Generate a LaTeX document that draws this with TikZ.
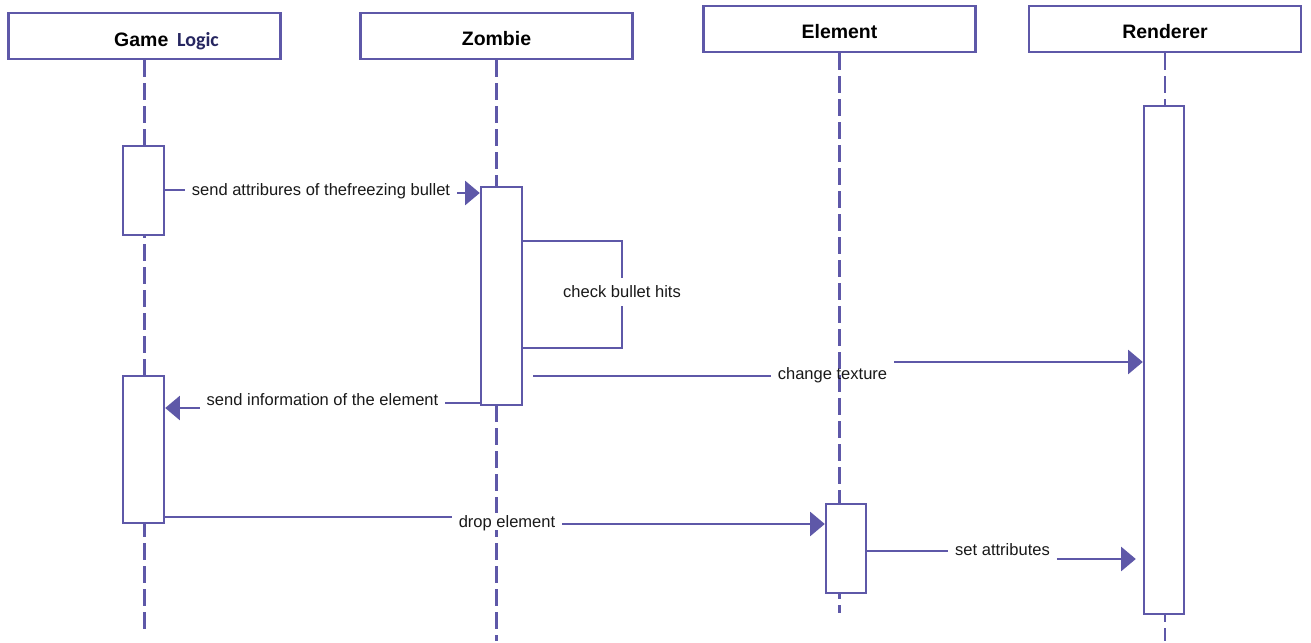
\documentclass[tikz,border=0pt]{standalone}
\usepackage{fontspec}
\setmainfont{Liberation Sans}
\newfontfamily\carlito{Carlito}
\usetikzlibrary{arrows.meta}
\definecolor{seq}{RGB}{94,88,168}
\definecolor{navy}{RGB}{38,38,96}
\begin{document}
\begin{tikzpicture}[x=0.75pt,y=-0.75pt,
  header/.style={draw=seq,line width=1.8pt,fill=white,minimum width=204pt,
    minimum height=34.5pt,inner sep=0pt,text height=15pt,text depth=0pt,
    font=\fontsize{14.6}{17}\selectfont\bfseries},
  lifeline/.style={draw=seq,line width=1.8pt,dash pattern=on 12.75pt off 4.5pt},
  act/.style={draw=seq,line width=1.8pt,fill=white,minimum width=30.75pt,inner sep=0pt},
  msg/.style={draw=seq,line width=1.8pt},
  call/.style={msg,-{Triangle[length=11pt,width=18pt]}},
  lbl/.style={font=\fontsize{12.4}{15}\selectfont,inner xsep=5pt,inner ysep=2pt,
    text depth=0pt,text=black!90}]

% canvas
\fill[white] (0,0) rectangle (1311,641);

% participants
\node[header] (gl) at (144.5,36) {};
\node[font=\fontsize{14.6}{17}\selectfont\bfseries,text depth=0pt] (gltitle) at (166.5,39)
  {Game\hspace{0.45em}{\carlito\fontsize{15}{17}\selectfont\color{navy}Logic}};
\node[header] (zh) at (496.5,36) {Zombie};
\node[header] (eh) at (839.5,29) {Element};
\node[header] (rh) at (1165,29) {Renderer};

% lifelines
\draw[lifeline] (gl.south) -- (gl.south |- 0,635);
\draw[lifeline] (zh.south) -- (zh.south |- 0,641);
\draw[lifeline] (eh.south) -- (eh.south |- 0,613);
\draw[lifeline] (rh.south) -- (rh.south |- 0,641);

% activation bars
\node[act,minimum height=66.75pt] (gl1) at (143.5,190.5) {};
\node[act,minimum height=110.25pt] (gl2) at (143.5,449.5) {};
\node[act,minimum height=163.5pt] (zb) at (501.5,296) {};
\node[act,minimum height=66.75pt,minimum width=30pt] (el) at (846,548.5) {};
\node[act,minimum height=381pt,minimum width=30pt] (rd) at (1164,360) {};

% send attributes of the bullet
\node[lbl] (m1) at (321,190) {send attribures of thefreezing bullet};
\draw[msg] (gl1.east |- 0,190) -- (m1.west);
\draw[call] (m1.east |- 0,193) -- (zb.west |- 0,193);

% self call: check bullet hits
\node[lbl,inner ysep=6pt] (chk) at (622,292) {check bullet hits};
\coordinate (s1) at (622,241);
\coordinate (s2) at (622,348);
\draw[msg] (zb.east |- s1) -- (s1) -- (chk.north);
\draw[msg] (chk.south) -- (s2) -- (zb.east |- s2);

% change texture
\node[lbl] (tex) at (832.5,374) {change texture};
\coordinate (ct) at (533,376);
\draw[msg] (ct) -- (tex.west |- ct);
\draw[call] (tex.east |- 0,362) -- (rd.west |- 0,362);

% send information back
\node[lbl] (si) at (322.5,400) {send information of the element};
\draw[msg] (zb.west |- 0,403) -- (si.east |- 0,403);
\draw[call] (si.west |- 0,408) -- (gl2.east |- 0,408);

% drop element
\node[lbl,fill=white] (de) at (507,521.5) {drop element};
\draw[msg] (gl2.east |- 0,517) -- (de.west |- 0,517);
\draw[call] (de.east |- 0,524) -- (el.west |- 0,524);

% set attributes
\node[lbl] (sa) at (1002.5,549.5) {set attributes};
\draw[msg] (el.east |- 0,551) -- (sa.west |- 0,551);
\draw[call,shorten >=5.25pt] (sa.east |- 0,559) -- (rd.west |- 0,559);

\end{tikzpicture}
\end{document}
